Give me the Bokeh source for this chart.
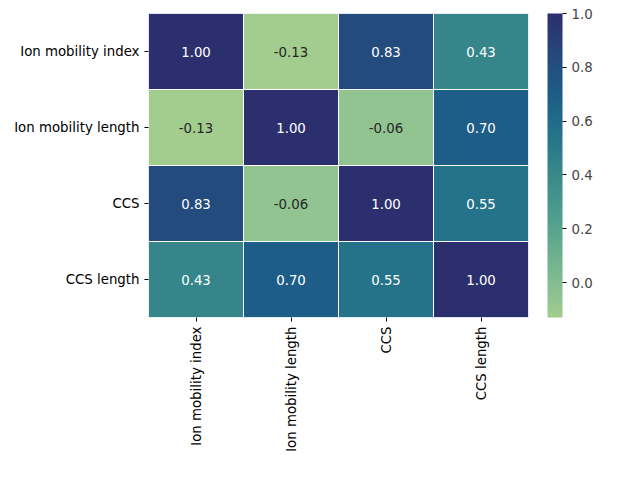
import numpy as np
from bokeh.plotting import figure
from bokeh.models import ColumnDataSource, LinearColorMapper, ColorBar, FixedTicker, PrintfTickFormatter
from bokeh.core.properties import value
from bokeh.embed import file_html
from bokeh.resources import INLINE

labels = ["Ion mobility index", "Ion mobility length", "CCS", "CCS length"]
corr = [
    [1.00, -0.13, 0.83, 0.43],
    [-0.13, 1.00, -0.06, 0.70],
    [0.83, -0.06, 1.00, 0.55],
    [0.43, 0.70, 0.55, 1.00],
]

# crest-like colour stops, at their values
stop_vals = [-0.13, -0.06, 0.1, 0.25, 0.43, 0.55, 0.70, 0.83, 1.0]
stops = ["#a3cd8f", "#91c392", "#6db18e", "#4e9d8d", "#35858b", "#24738a",
         "#1d5d87", "#244b7e", "#2c2f6d"]
pos = (np.array(stop_vals) - stop_vals[0]) / (stop_vals[-1] - stop_vals[0])
rgb = np.array([[int(s[i:i + 2], 16) for i in (1, 3, 5)] for s in stops])
t = np.linspace(0, 1, 256)
palette = ["#%02x%02x%02x" % tuple(int(round(np.interp(v, pos, rgb[:, c]))) for c in range(3)) for v in t]

xs, ys, vals, txt, tcol = [], [], [], [], []
for i, r in enumerate(labels):
    for j, c in enumerate(labels):
        v = corr[i][j]
        xs.append(c); ys.append(r); vals.append(v)
        txt.append("%.2f" % v)
        tcol.append("#262626" if v < 0.2 else "white")
src = ColumnDataSource(dict(x=xs, y=ys, v=vals, t=txt, tc=tcol))

mapper = LinearColorMapper(palette=palette, low=-0.13, high=1.0)

p = figure(frame_width=380, frame_height=304, x_range=labels, y_range=labels[::-1],
           output_backend="svg", toolbar_location=None,
           min_border_left=148, min_border_top=13, min_border_bottom=0, min_border_right=80)
p.rect("x", "y", 1, 1, source=src, fill_color={"field": "v", "transform": mapper},
       line_color="white", line_width=1)
p.text("x", "y", text="t", source=src, text_color="tc", text_align="center",
       text_baseline="middle", text_font_size="10pt", text_font=value("DejaVu Sans"))

for ax in (p.xaxis, p.yaxis):
    ax.axis_line_color = None
    ax.major_label_text_font = "DejaVu Sans"
    ax.major_label_text_font_size = "10pt"
    ax.major_label_text_color = "black"
    ax.major_tick_out = 4
    ax.major_tick_in = 0
    ax.minor_tick_line_color = None
p.xaxis.major_label_orientation = np.pi / 2
p.grid.visible = False
p.outline_line_color = None

cb = ColorBar(color_mapper=mapper, width=15, padding=0, location=(19, 0),
              ticker=FixedTicker(ticks=[0.0, 0.2, 0.4, 0.6, 0.8, 1.0]),
              formatter=PrintfTickFormatter(format="%.1f"),
              major_label_text_font="DejaVu Sans", major_label_text_font_size="10pt",
              major_tick_out=4, major_tick_in=0, major_tick_line_color="black",
              bar_line_color=None, border_line_color=None, background_fill_alpha=0)
p.add_layout(cb, "right")

open("out.html", "w").write(file_html(p, INLINE))
